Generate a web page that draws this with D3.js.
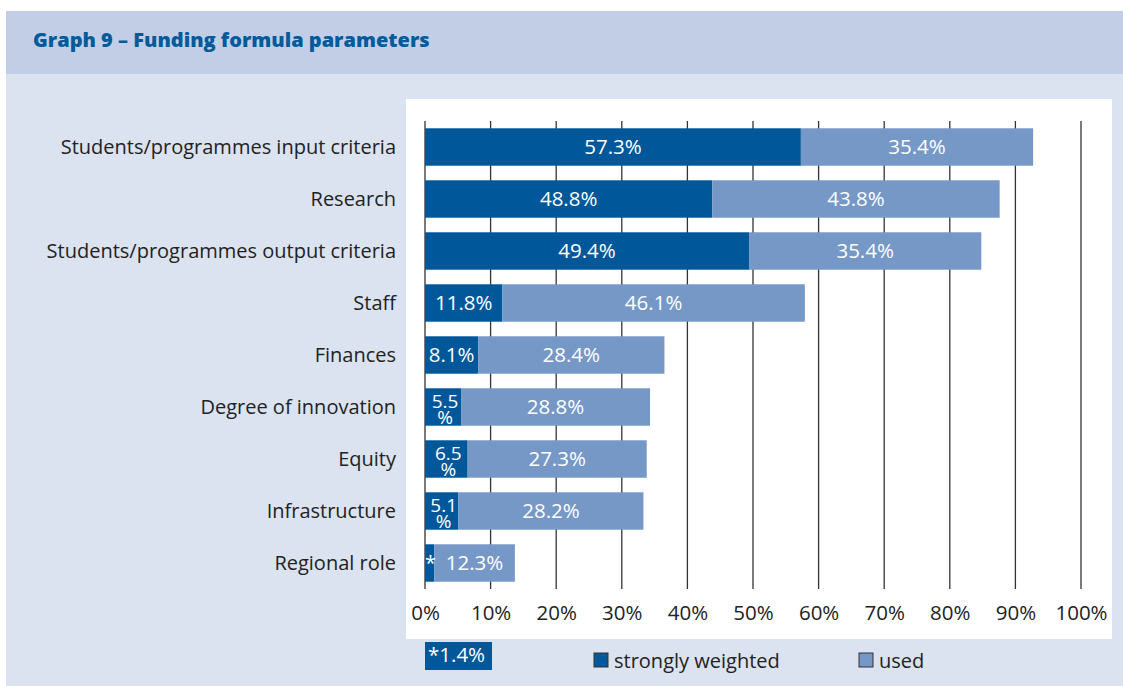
<!DOCTYPE html>
<html>
<head>
<meta charset="utf-8">
<script src="https://cdn.jsdelivr.net/npm/d3@7"></script>
<style>
  body { margin: 0; background: #fff; }
  svg text { font-family: "Open Sans", sans-serif; }
</style>
</head>
<body>
<svg id="chart" width="1123" height="686"></svg>
<script>
// chart data
var categories = [
	'Students/programmes input criteria',
	'Research',
	'Students/programmes output criteria',
	'Staff',
	'Finances',
	'Degree of innovation',
	'Equity',
	'Infrastructure',
	'Regional role'
];
// bar lengths as drawn in the picture
var stronglyWeighted = [57.3, 43.8, 49.4, 11.8, 8.1, 5.5, 6.5, 5.1, 1.4];
var used = [35.4, 43.8, 35.4, 46.1, 28.4, 28.8, 27.3, 28.2, 12.3];
// printed labels (the Research bar is labelled 48.8% in the original)
var stronglyLabels = ['57.3%', '48.8%', '49.4%', '11.8%', '8.1%', '5.5|%', '6.5|%', '5.1|%', '*'];
var usedLabels = ['35.4%', '43.8%', '35.4%', '46.1%', '28.4%', '28.8%', '27.3%', '28.2%', '12.3%'];
var tickValues = [0, 10, 20, 30, 40, 50, 60, 70, 80, 90, 100];
var seriesNames = ['strongly weighted', 'used'];
var title = 'Graph 9 \u2013 Funding formula parameters';
var footnote = '*1.4%';

var DARK = '#00589b', LIGHT = '#7598c7';

var svg = d3.select('#chart');

// frame
svg.append('rect').attr('x', 6).attr('y', 11).attr('width', 1117).attr('height', 675).attr('fill', '#dce3f0');
svg.append('rect').attr('x', 6).attr('y', 11).attr('width', 1117).attr('height', 63).attr('fill', '#c2cee5');
svg.append('text').attr('x', 33).attr('y', 47)
	.attr('font-size', 20).attr('font-weight', 800).attr('fill', '#005b9c')
	.text(title);

// plot area
svg.append('rect').attr('x', 406).attr('y', 99).attr('width', 706).attr('height', 540).attr('fill', '#fff');

var x = d3.scaleLinear().domain([0, 100]).range([425, 1081]);
var y = d3.scaleBand().domain(categories).range([121, 589]).paddingInner(0.28).paddingOuter(0.14);

// grid lines
svg.append('g').selectAll('line').data(tickValues).enter().append('line')
	.attr('x1', function(d){ return x(d); })
	.attr('x2', function(d){ return x(d); })
	.attr('y1', 121).attr('y2', 589)
	.attr('stroke', '#333').attr('stroke-width', 1.3);

// tick labels
var xAxis = svg.append('g').attr('transform', 'translate(0,589)')
	.call(d3.axisBottom(x).tickValues(tickValues).tickSize(0).tickPadding(16).tickFormat(function(d){ return d + '%'; }));
xAxis.select('.domain').remove();
xAxis.selectAll('text').attr('font-size', 20.5).attr('fill', '#222').style('font-family', '"Open Sans", sans-serif');

// category labels
svg.append('g').selectAll('text').data(categories).enter().append('text')
	.attr('x', 396)
	.attr('y', function(d){ return y(d) + y.bandwidth() / 2; })
	.attr('dy', '0.35em')
	.attr('text-anchor', 'end')
	.attr('font-size', 20).attr('fill', '#222')
	.text(function(d){ return d; });

var rows = categories.map(function(c, i){
	return { cat: c, s: stronglyWeighted[i], u: used[i], sl: stronglyLabels[i], ul: usedLabels[i] };
});

var g = svg.append('g');
g.selectAll('rect.s').data(rows).enter().append('rect')
	.attr('x', x(0))
	.attr('y', function(d){ return y(d.cat); })
	.attr('width', function(d){ return x(d.s) - x(0); })
	.attr('height', y.bandwidth())
	.attr('fill', DARK);
g.selectAll('rect.u').data(rows).enter().append('rect')
	.attr('x', function(d){ return x(d.s); })
	.attr('y', function(d){ return y(d.cat); })
	.attr('width', function(d){ return x(d.s + d.u) - x(d.s); })
	.attr('height', y.bandwidth())
	.attr('fill', LIGHT);

// labels inside bars
rows.forEach(function(d){
	var cy = y(d.cat) + y.bandwidth() / 2;
	var sx = (x(0) + x(d.s)) / 2;
	if (d.sl == '*') {
		g.append('text').attr('x', sx + 1).attr('y', cy + 7).attr('text-anchor', 'middle')
			.attr('font-size', 20).attr('fill', '#fff').text('*');
	} else if (d.sl.indexOf('|') > -1) {
		// narrow bar: value wrapped on two tight lines
		var parts = d.sl.split('|');
		var t = g.append('text').attr('text-anchor', 'middle')
			.attr('font-size', 19).attr('fill', '#fff');
		t.append('tspan').attr('x', sx + 2).attr('y', cy + 0.5).text(parts[0]);
		t.append('tspan').attr('x', sx + 2).attr('y', cy + 16.5).text(parts[1]);
	} else {
		g.append('text').attr('x', sx).attr('y', cy).attr('dy', '0.35em').attr('text-anchor', 'middle')
			.attr('font-size', 20.5).attr('fill', '#fff').text(d.sl);
	}
	var ux = (x(d.s) + x(d.s + d.u)) / 2;
	g.append('text').attr('x', ux).attr('y', cy).attr('dy', '0.35em').attr('text-anchor', 'middle')
		.attr('font-size', 20.5).attr('fill', '#fff').text(d.ul);
});

// footnote
svg.append('rect').attr('x', 425).attr('y', 642).attr('width', 67).attr('height', 28).attr('fill', DARK);
svg.append('text').attr('x', 428).attr('y', 655).attr('dy', '0.35em')
	.attr('font-size', 20.5).attr('fill', '#fff').text(footnote);

// legend
var legend = svg.append('g').selectAll('g').data(seriesNames).enter().append('g')
	.attr('transform', function(d, i){ return 'translate(' + [594, 859][i] + ',653)'; });
legend.append('rect').attr('width', 14).attr('height', 14)
	.attr('fill', function(d, i){ return [DARK, LIGHT][i]; })
	.attr('stroke', '#333').attr('stroke-width', 1);
legend.append('text').attr('x', 20).attr('y', 8).attr('dy', '0.35em')
	.attr('font-size', 20).attr('fill', '#222').text(function(d){ return d; });
</script>
</body>
</html>
